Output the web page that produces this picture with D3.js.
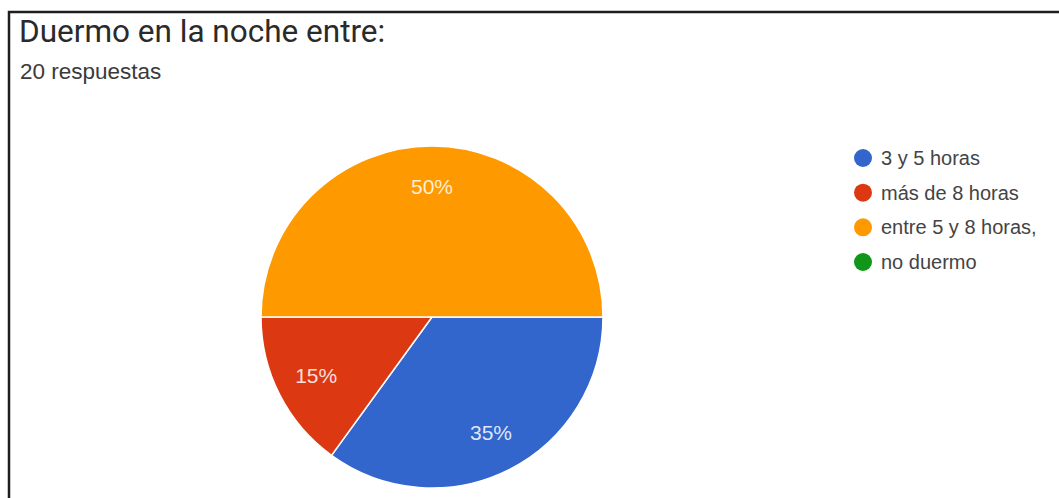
<!DOCTYPE html>
<html>
<head>
<meta charset="utf-8">
<script src="https://cdn.jsdelivr.net/npm/d3@7"></script>
<style>
  html, body { margin: 0; padding: 0; background: white; }
  svg { display: block; }
</style>
</head>
<body>
<div id="chart"></div>
<script>
const width = 1059;
const height = 498;

const title = "Duermo en la noche entre:";
const subtitle = "20 respuestas";
const categories = ["3 y 5 horas", "más de 8 horas", "entre 5 y 8 horas,", "no duermo"];
const percentages = [35, 15, 50, 0];
const colors = ["#3366cc", "#dc3912", "#ff9900", "#109618"];

const center = [432, 317];
const radius = 171;
const labelRadius = 130;

const svg = d3.select("#chart").append("svg")
  .attr("width", width)
  .attr("height", height);

svg.append("rect")
  .attr("width", width)
  .attr("height", height)
  .attr("fill", "white");

// frame of the screenshot (only top and left edges visible)
svg.append("path")
  .attr("d", `M9,${height} V12 H${width}`)
  .attr("fill", "none")
  .attr("stroke", "#1e1e1e")
  .attr("stroke-width", 2.5);

svg.append("text")
  .attr("x", 19)
  .attr("y", 42)
  .attr("font-family", "Roboto, 'Liberation Sans', sans-serif")
  .attr("font-size", 31.5)
  .attr("fill", "#2a2a2a")
  .text(title);

svg.append("text")
  .attr("x", 20)
  .attr("y", 79)
  .attr("font-family", "'Liberation Sans', Arial, sans-serif")
  .attr("font-size", 22.5)
  .attr("fill", "#3a3a3a")
  .text(subtitle);

const data = categories.map((name, i) => ({ name, value: percentages[i], color: colors[i] }));

const pie = d3.pie()
  .sort(null)
  .value(d => d.value)
  .startAngle(Math.PI / 2)
  .endAngle(Math.PI / 2 + 2 * Math.PI);

const arcs = pie(data);
const arc = d3.arc().innerRadius(0).outerRadius(radius);
const labelArc = d3.arc().innerRadius(labelRadius).outerRadius(labelRadius);

const g = svg.append("g")
  .attr("transform", `translate(${center[0]},${center[1]})`);

g.selectAll(".slice")
  .data(arcs.filter(d => d.value > 0))
  .join("path")
  .attr("class", "slice")
  .attr("d", arc)
  .attr("fill", d => d.data.color)
  .attr("stroke", "white")
  .attr("stroke-width", 1.5);

g.selectAll(".slice-label")
  .data(arcs.filter(d => d.value > 0))
  .join("text")
  .attr("class", "slice-label")
  .attr("transform", d => `translate(${labelArc.centroid(d)})`)
  .attr("text-anchor", "middle")
  .attr("dy", "0.35em")
  .attr("font-family", "'Liberation Sans', Arial, sans-serif")
  .attr("font-size", 21)
  .attr("fill", "white")
  .attr("fill-opacity", 0.85)
  .text(d => `${d.data.value}%`);

const legendY = d3.scalePoint()
  .domain(categories)
  .range([158, 262]);

const legend = svg.selectAll(".legend-item")
  .data(data)
  .join("g")
  .attr("class", "legend-item")
  .attr("transform", d => `translate(863,${legendY(d.name)})`);

legend.append("circle")
  .attr("r", 9)
  .attr("fill", d => d.color);

legend.append("text")
  .attr("x", 18)
  .attr("dy", "0.35em")
  .attr("font-family", "'Liberation Sans', Arial, sans-serif")
  .attr("font-size", 20)
  .attr("fill", "#444")
  .text(d => d.name);
</script>
</body>
</html>
